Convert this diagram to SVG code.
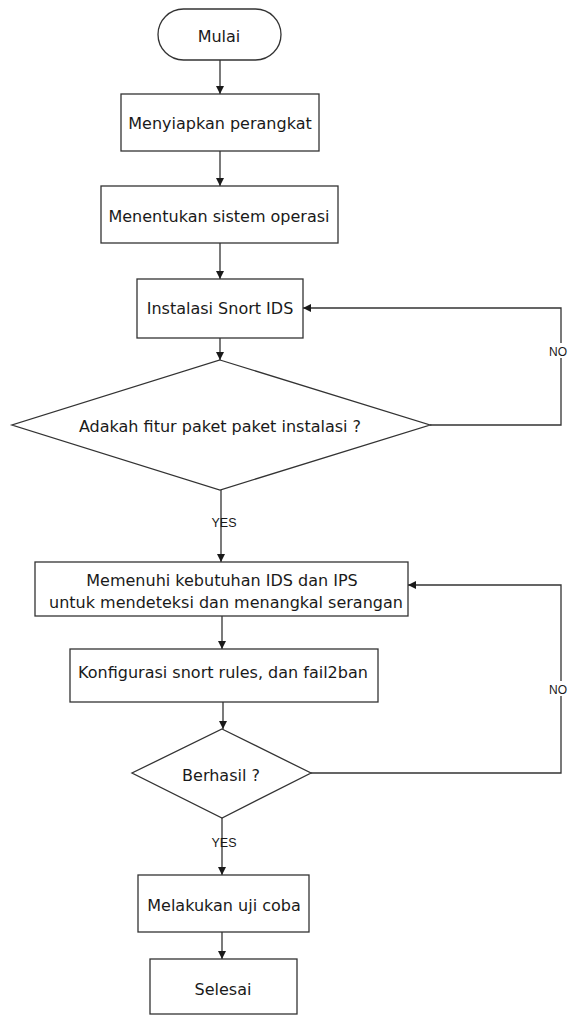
<svg xmlns="http://www.w3.org/2000/svg" width="568" height="1016" viewBox="0 0 568 1016">
<style>
.shape{fill:#ffffff;stroke:#333333;stroke-width:1.3}
.t{font-family:"DejaVu Sans",Verdana,sans-serif;font-size:16px;fill:#1a1a1a;text-anchor:middle}
.lbl{font-family:"Liberation Sans",Arial,sans-serif;font-size:12.5px;fill:#1a1a1a;text-anchor:middle}
.no{font-family:"Liberation Sans",Arial,sans-serif;font-size:12px;fill:#1a1a1a;text-anchor:end}
.c{fill:none;stroke:#333333;stroke-width:1.3}
</style>
<defs>
<marker id="ah" viewBox="0 0 10 10" refX="10" refY="5" markerWidth="8" markerHeight="8" markerUnits="userSpaceOnUse" orient="auto">
<path d="M0,0 L10,5 L0,10 z" fill="#1a1a1a"/>
</marker>
</defs>
<rect width="568" height="1016" fill="#ffffff"/>
<g id="connectors">
<path class="c" d="M220,60 V94" marker-end="url(#ah)"/>
<path class="c" d="M220,151 V186" marker-end="url(#ah)"/>
<path class="c" d="M220,243 V279" marker-end="url(#ah)"/>
<path class="c" d="M220,338 V360" marker-end="url(#ah)"/>
<path class="c" d="M430,425 H561 V308 H303" marker-end="url(#ah)"/>
<path class="c" d="M221,490 V562" marker-end="url(#ah)"/>
<path class="c" d="M222,616 V649" marker-end="url(#ah)"/>
<path class="c" d="M223,702 V729" marker-end="url(#ah)"/>
<path class="c" d="M311,773 H561 V585 H408" marker-end="url(#ah)"/>
<path class="c" d="M222,818 V875" marker-end="url(#ah)"/>
<path class="c" d="M222,932 V959" marker-end="url(#ah)"/>
<rect x="549" y="343" width="19" height="15" fill="#ffffff"/>
<text class="no" x="567" y="356">NO</text>
<rect x="549" y="681" width="19" height="15" fill="#ffffff"/>
<text class="no" x="567" y="694">NO</text>
<text class="lbl" x="224" y="527">YES</text>
<text class="lbl" x="224" y="847">YES</text>
</g>
<g id="mulai">
<rect class="shape" x="158" y="9" width="123" height="51" rx="25.5" ry="25.5"/>
<text class="t" x="219" y="42">Mulai</text>
</g>
<g id="menyiapkan">
<rect class="shape" x="121" y="94" width="198" height="57"/>
<text class="t" x="220" y="129">Menyiapkan perangkat</text>
</g>
<g id="menentukan">
<rect class="shape" x="101" y="186" width="237" height="57"/>
<text class="t" x="219" y="222">Menentukan sistem operasi</text>
</g>
<g id="instalasi">
<rect class="shape" x="137" y="279" width="166" height="59"/>
<text class="t" x="220" y="314">Instalasi Snort IDS</text>
</g>
<g id="adakah">
<polygon class="shape" points="220,360 430,425 220,490 12,425"/>
<text class="t" x="220" y="432">Adakah fitur paket paket instalasi ?</text>
</g>
<g id="memenuhi">
<rect class="shape" x="35" y="562" width="373" height="54"/>
<text class="t" x="222" y="586">Memenuhi kebutuhan IDS dan IPS</text>
<text class="t" x="226" y="608">untuk mendeteksi dan menangkal serangan</text>
</g>
<g id="konfigurasi">
<rect class="shape" x="70" y="649" width="308" height="53"/>
<text class="t" x="223" y="678">Konfigurasi snort rules, dan fail2ban</text>
</g>
<g id="berhasil">
<polygon class="shape" points="222,729 311,773 222,818 132,773"/>
<text class="t" x="221" y="781">Berhasil ?</text>
</g>
<g id="melakukan">
<rect class="shape" x="138" y="875" width="171" height="57"/>
<text class="t" x="224" y="911">Melakukan uji coba</text>
</g>
<g id="selesai">
<rect class="shape" x="150" y="959" width="147" height="55"/>
<text class="t" x="223" y="995">Selesai</text>
</g>
</svg>
